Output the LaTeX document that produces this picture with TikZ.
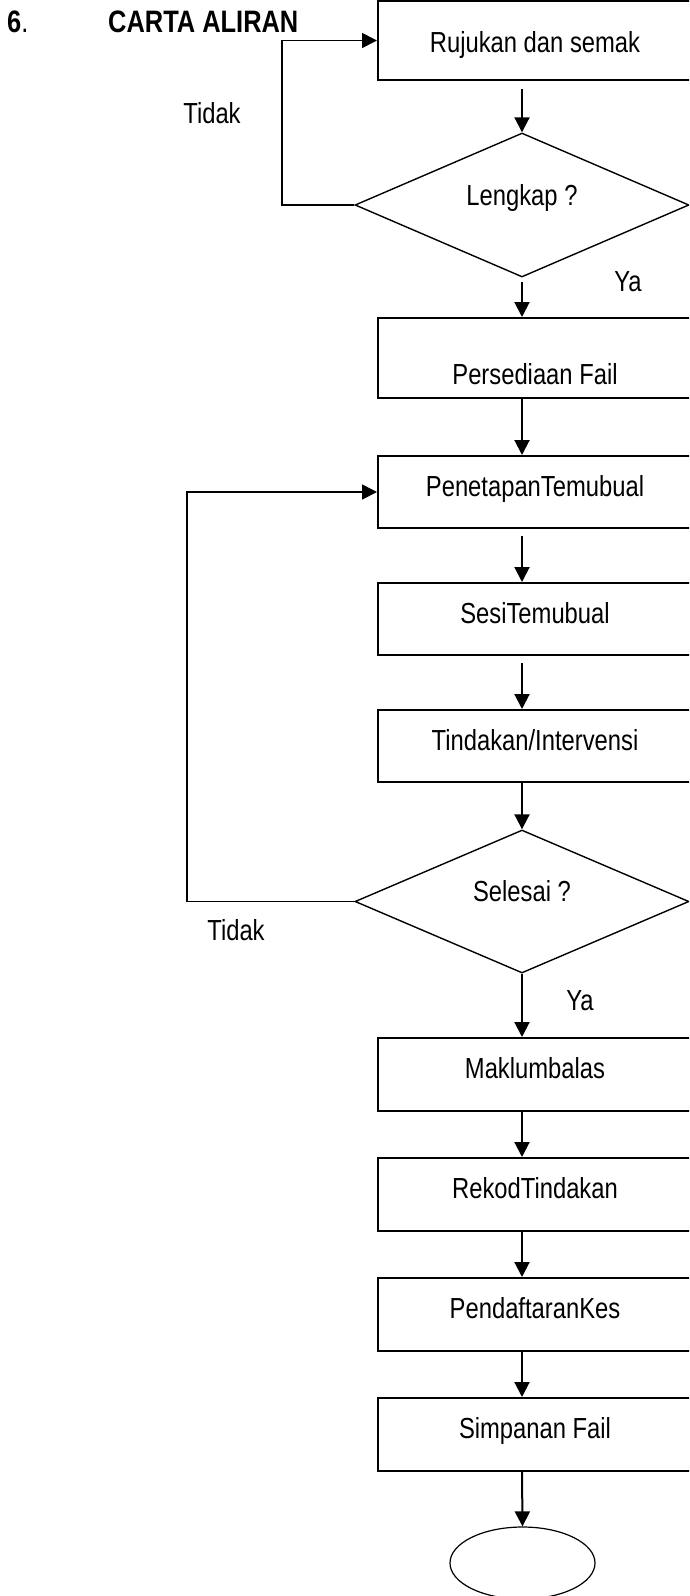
\documentclass[tikz,border=0pt]{standalone}
\usepackage{fontspec}
\setmainfont{Liberation Sans}[FakeStretch=0.82]
\usetikzlibrary{shapes.geometric,arrows.meta}

\begin{document}
\begin{tikzpicture}[x=1pt,y=-1pt,
    stepbox/.style={draw,rectangle,line width=2pt,minimum width=314pt,minimum height=73pt,text height=20pt,text depth=12pt},
    ask/.style={draw,diamond,aspect=2.3,line width=1.4pt,minimum width=334pt,minimum height=144pt,text height=12pt,text depth=12pt},
    flow/.style={line width=2pt,-{Triangle[width=15pt,length=15pt]}},
    title/.style={anchor=base west,inner sep=0pt,font=\fontsize{31}{36}\selectfont\bfseries}]
            \tikzstyle{every node}+=[font=\fontsize{29}{34}\selectfont]
            \useasboundingbox (0,0) rectangle (689,1596);
            \clip (0,0) rectangle (689,1596);
            % heading
            \node[title] (nombor) at (7,32) {6\mdseries.};
            \node[title] (judul) at (108,32) {CARTA ALIRAN};
            % steps
            \node[stepbox,minimum height=79pt,text height=25pt,text depth=1pt] (rujukan) at (535,40.5) {Rujukan dan semak};
            \node[ask] (lengkap) at (522,205) {Lengkap ?};
            \node[stepbox,minimum height=80pt,text height=54pt,text depth=1pt] (fail) at (535,358) {Persediaan Fail};
            \node[stepbox,minimum height=72pt] (tetap) at (535,492) {PenetapanTemubual};
            \node[stepbox,minimum height=72pt] (sesi) at (535,619) {SesiTemubual};
            \node[stepbox,minimum height=72pt] (tindakan) at (535,746) {Tindakan/Intervensi};
            \node[ask,minimum height=143pt] (selesai) at (522,901.5) {Selesai ?};
            \node[stepbox] (maklum) at (535,1074.5) {Maklumbalas};
            \node[stepbox] (rekod) at (535,1194.5) {RekodTindakan};
            \node[stepbox] (daftar) at (535,1314.5) {PendaftaranKes};
            \node[stepbox] (simpan) at (535,1434.5) {Simpanan Fail};
            \node[draw,ellipse,line width=1.2pt,inner sep=0pt,minimum width=145pt,minimum height=72pt] (tamat) at (522.5,1563) {};
            % labels
            \node (tidak1) at (212,113) {Tidak};
            \node (ya1) at (628,282) {Ya};
            \node (tidak2) at (236,930) {Tidak};
            \node (ya2) at (580,1001) {Ya};
            % arrows
            \coordinate (spine) at (522,0);
            \draw[flow,shorten <=8pt] (rujukan.south -| spine) -- (lengkap.north);
            \draw[flow,shorten <=4pt] (lengkap.south) -- (fail.north -| spine);
            \draw[flow] (fail.south -| spine) -- (tetap.north -| spine);
            \draw[flow,shorten <=7pt] (tetap.south -| spine) -- (sesi.north -| spine);
            \draw[flow,shorten <=7pt] (sesi.south -| spine) -- (tindakan.north -| spine);
            \draw[flow] (tindakan.south -| spine) -- (selesai.north);
            \draw[flow] (selesai.south) -- (maklum.north -| spine);
            \draw[flow] (maklum.south -| spine) -- (rekod.north -| spine);
            \draw[flow] (rekod.south -| spine) -- (daftar.north -| spine);
            \draw[flow] (daftar.south -| spine) -- (simpan.north -| spine);
            \draw[flow] (simpan.south -| spine) -- (tamat.north);
            % loops back
            \draw[flow,line width=1.7pt] (lengkap.west) -- ++(-72.5,0) |- (rujukan.west);
            \draw[flow,line width=1.7pt] (selesai.west) -- ++(-167.5,0) |- (tetap.west);
\end{tikzpicture}
\end{document}
